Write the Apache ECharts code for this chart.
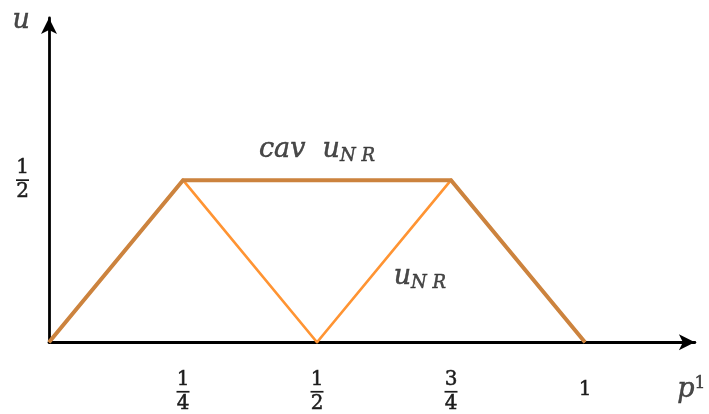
<!DOCTYPE html>
<html>
<head>
<meta charset="utf-8">
<script src="https://cdn.jsdelivr.net/npm/echarts@6/dist/echarts.min.js"></script>
<style>
  html, body { margin: 0; padding: 0; background: #fff; }
  #chart { width: 709px; height: 414px; }
</style>
</head>
<body>
<div id="chart"></div>
<script>
// Belief p^1 on the horizontal axis, payoff u on the vertical axis
const pValues = [0, 0.25, 0.5, 0.75, 1];
const uNR = [0, 0.5, 0, 0.5, 0];
// Concave envelope of u_NR
const cavP = [0, 0.25, 0.75, 1];
const cavU = [0, 0.5, 0.5, 0];
// Tick positions and their fractional labels
const xTicks = [0.25, 0.5, 0.75, 1];
const xTickLabels = [['1', '4'], ['1', '2'], ['3', '4'], ['1']];
const yTicks = [0.5];
const yTickLabels = [['1', '2']];
// Anchors (data coordinates) for the curve and axis labels
const cavLabelAt = [0.5, 0.5];
const uLabelAt = [0.643, 0.2];
const pLabelAt = [1.172, 0];
const yNameAt = [0, 1];

const serif = '"DejaVu Serif", "Liberation Serif", serif';
const textColor = '#1c1c1c';
// a hairline outline in the text colour gives the glyphs a slightly heavier stroke
const ink = { color: textColor, textBorderColor: textColor, textBorderWidth: 0.5 };

function fracLabel(parts) {
  if (parts.length === 1) return '{m|' + parts[0] + '}';
  return '{n|' + parts[0] + '}\n{l|}\n{n|' + parts[1] + '}';
}
const fracRich = {
  n: Object.assign({ fontFamily: serif, fontSize: 20, lineHeight: 19, align: 'center' }, ink),
  m: Object.assign({ fontFamily: serif, fontSize: 20, lineHeight: 40, align: 'center' }, ink),
  l: { backgroundColor: textColor, width: 13, height: 1.7, lineHeight: 5, align: 'center' }
};
const mathRich = {
  i: Object.assign({ fontFamily: serif, fontStyle: 'italic', fontSize: 27, lineHeight: 30 }, ink),
  s: Object.assign({ fontFamily: serif, fontStyle: 'italic', fontSize: 18, lineHeight: 30, verticalAlign: 'bottom', padding: [12, 0, 0, 0] }, ink),
  e: Object.assign({ fontFamily: serif, fontSize: 17, lineHeight: 30, verticalAlign: 'top', padding: [0, 0, 10, 0] }, ink)
};

const chart = echarts.init(document.getElementById('chart'));
chart.setOption({
  animation: false,
  backgroundColor: '#fff',
  grid: { left: 49, top: 18, width: 645.9, height: 325 },
  xAxis: {
    type: 'value', min: 0, max: 1.205,
    axisLine: { show: true, lineStyle: { color: '#000', width: 2.8 }, symbol: ['none', 'arrow'], symbolSize: [12, 16] },
    axisTick: { show: false },
    splitLine: { show: false },
    axisLabel: {
      customValues: xTicks, margin: 28,
      formatter: function (v) {
        const i = xTicks.indexOf(v);
        return i < 0 ? '' : fracLabel(xTickLabels[i]);
      },
      rich: fracRich
    }
  },
  yAxis: {
    type: 'value', min: 0, max: 1,
    axisLine: { show: true, lineStyle: { color: '#000', width: 2.8 }, symbol: ['none', 'arrow'], symbolSize: [12, 16] },
    axisTick: { show: false },
    splitLine: { show: false },
    axisLabel: {
      customValues: yTicks, margin: 20,
      formatter: function (v) {
        const i = yTicks.indexOf(v);
        return i < 0 ? '' : fracLabel(yTickLabels[i]);
      },
      rich: fracRich
    }
  },
  series: [
    {
      name: 'u_NR', type: 'line', data: pValues.map((p, i) => [p, uNR[i]]),
      symbol: 'none', z: 2,
      lineStyle: { color: '#FF9433', width: 2.6, join: 'miter' }
    },
    {
      name: 'cav u_NR', type: 'line', data: cavP.map((p, i) => [p, cavU[i]]),
      symbol: 'none', z: 3,
      lineStyle: { color: '#CC833E', width: 4, join: 'miter' }
    },
    {
      type: 'scatter', symbolSize: 0, z: 5, silent: true,
      data: [
        { value: cavLabelAt, label: { show: true, position: 'top', distance: 15, formatter: '{i|cav  u}{s|N R}', rich: mathRich } },
        { value: uLabelAt, label: { show: true, position: 'right', distance: 0, formatter: '{i|u}{s|N R}', rich: mathRich } },
        { value: pLabelAt, label: { show: true, position: 'right', distance: 0, offset: [0, 48], formatter: '{i|p}{e|1}', rich: mathRich } },
        { value: yNameAt, label: { show: true, position: 'left', distance: 19, offset: [0, 3], formatter: '{i|u}', rich: mathRich } }
      ]
    }
  ]
});
</script>
</body>
</html>
